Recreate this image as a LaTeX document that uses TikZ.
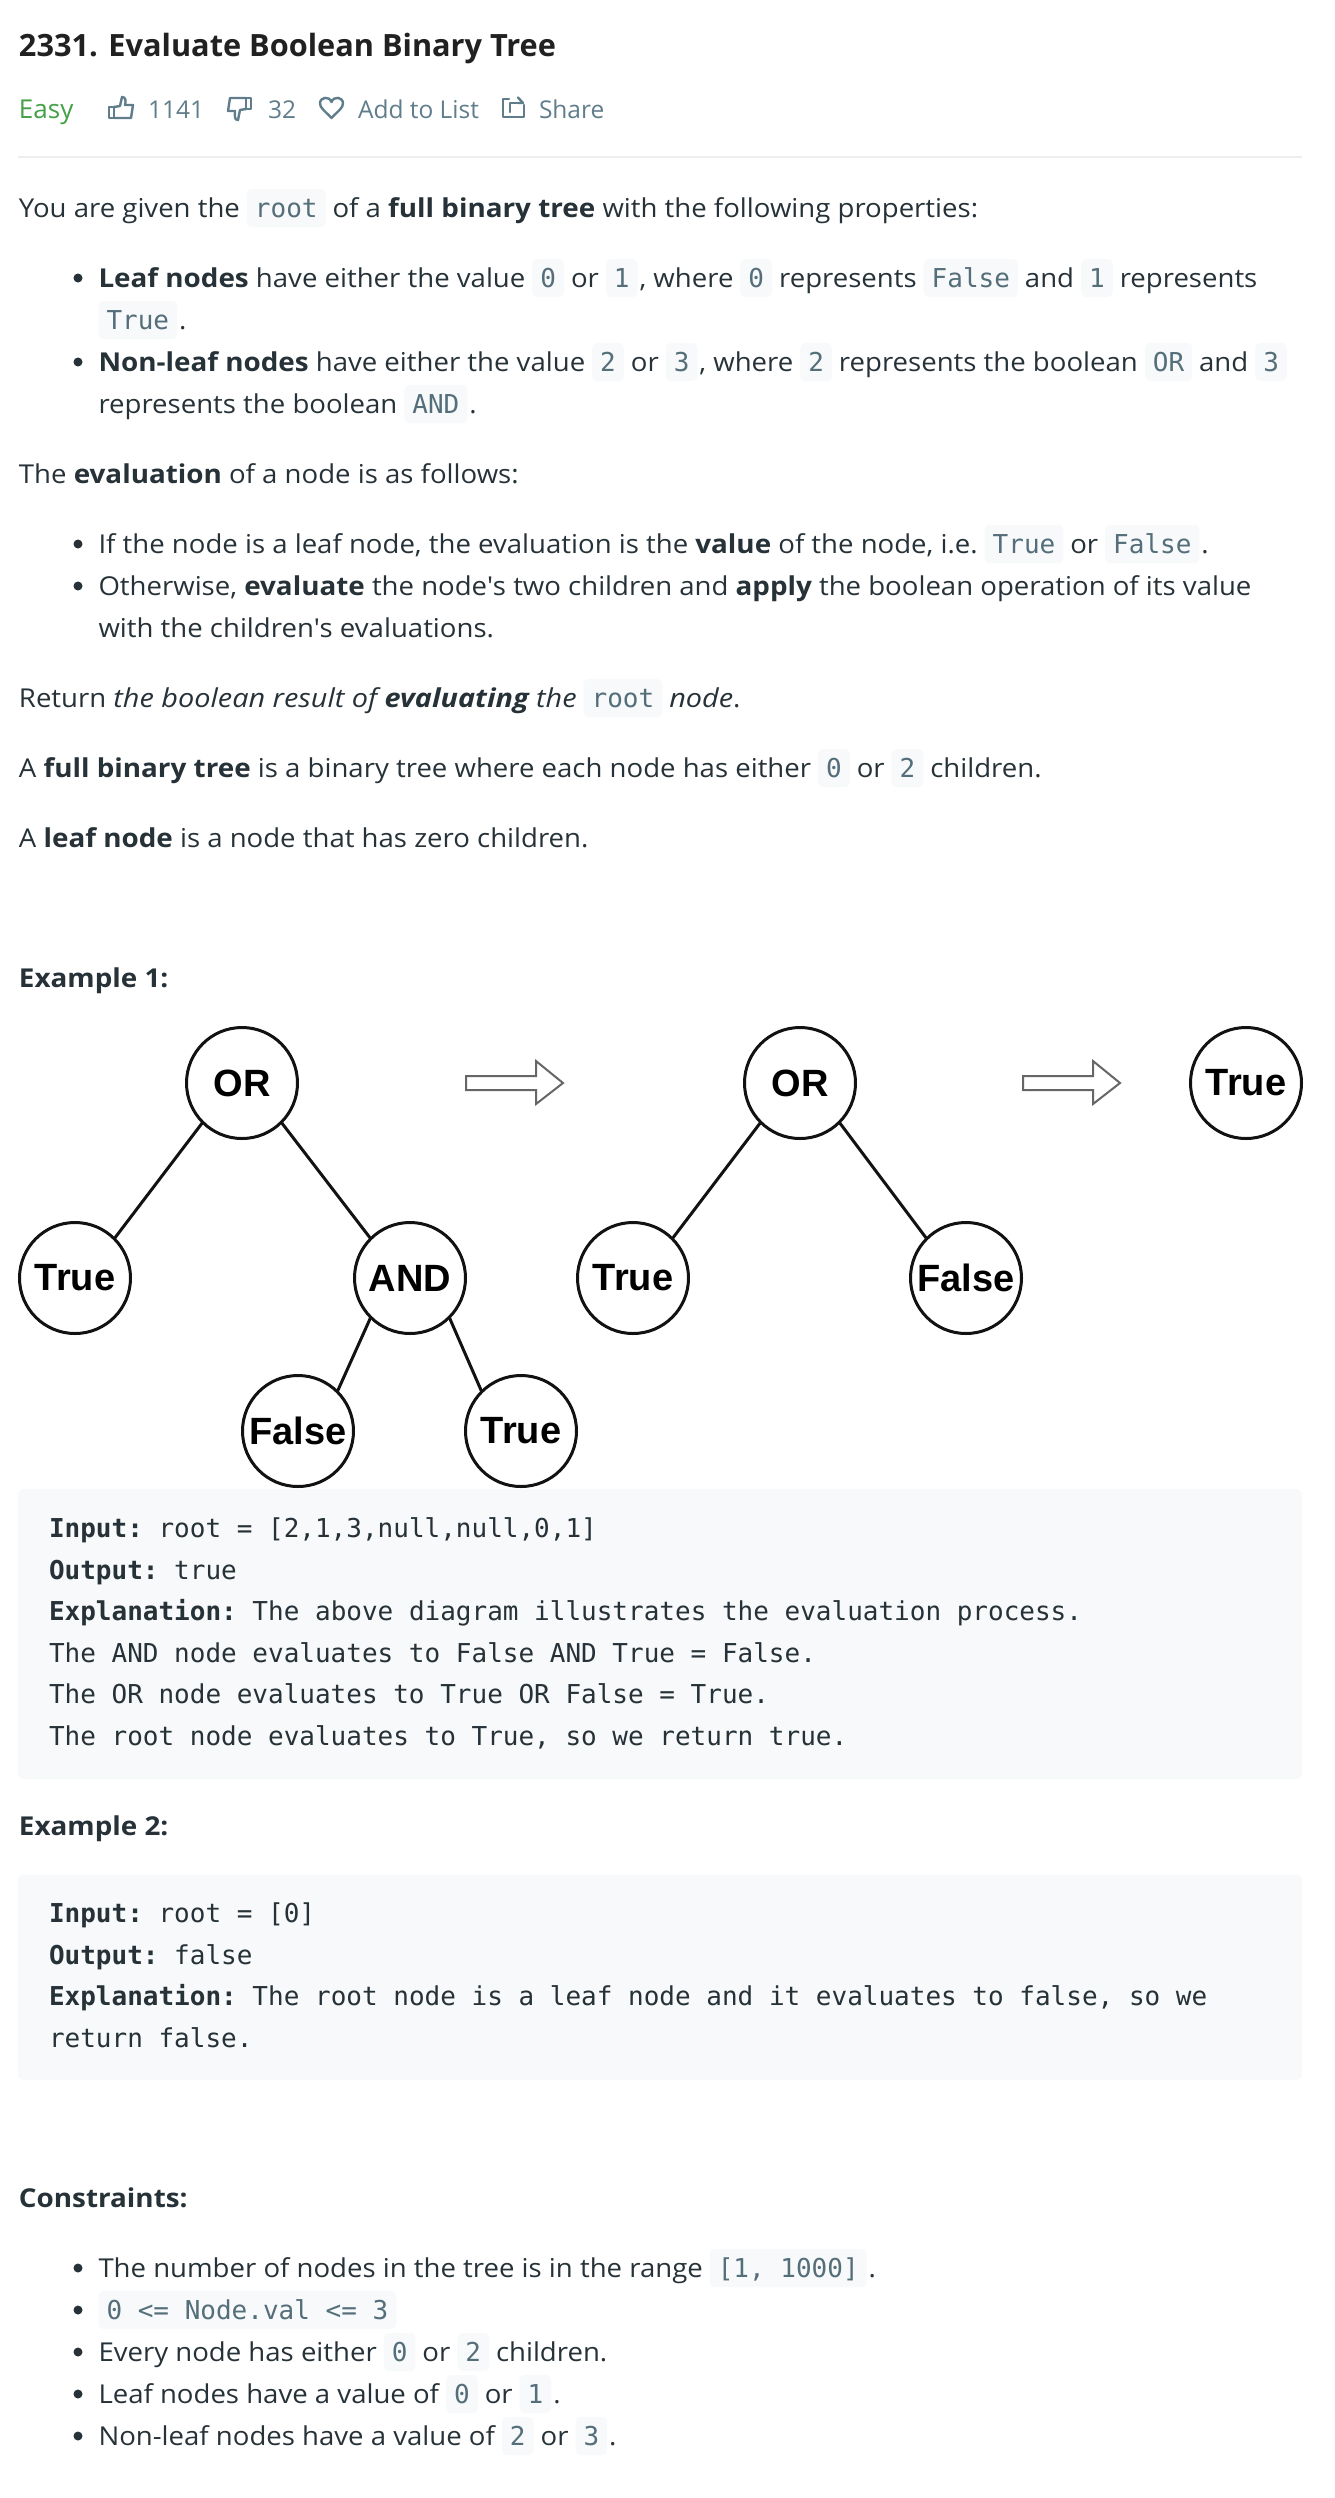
\documentclass[tikz,border=0pt]{standalone}
\usepackage{fontspec}
\setmainfont[FakeStretch=1.06,BoldFeatures={FakeStretch=1.07},ItalicFeatures={FakeStretch=1.11},BoldItalicFeatures={FakeStretch=1.11}]{Open Sans}
\setmonofont{DejaVu Sans Mono}
\newfontfamily\plainfont{Open Sans}
\newfontfamily\treefont{Liberation Sans}
\definecolor{bodyc}{HTML}{263238}
\definecolor{titlec}{HTML}{212121}
\definecolor{codec}{HTML}{546E7A}
\definecolor{chipc}{HTML}{F7F9FA}
\definecolor{metac}{HTML}{607D8B}
\definecolor{easyc}{HTML}{43A047}
\definecolor{hrc}{HTML}{EEEEEE}
\definecolor{arrowc}{HTML}{666666}
\newcounter{seg}
\tikzset{
 x=1pt,y=-1pt,
 every node/.style={inner sep=0pt,outer sep=0pt},
 txt/.style={anchor=base west,text=bodyc,font=\fontsize{26}{31}\selectfont},
 chip/.style={anchor=base west,fill=chipc,rounded corners=5pt,text=codec,inner xsep=8pt,inner ysep=0pt,text height=28pt,text depth=10pt,font=\ttfamily\fontsize{26}{31}\selectfont},
 codeline/.style={anchor=base west,text=bodyc,font=\ttfamily\fontsize{26}{31}\selectfont},
 block/.style={fill=chipc,rounded corners=5pt},
 treenode/.style={circle,draw=black!93,line width=3pt,minimum size=111pt,fill=white,text=black,font=\treefont\bfseries\fontsize{38}{44}\selectfont},
 edge/.style={draw=black!93,line width=3pt},
 bigarrow/.style={draw=arrowc,line width=2pt,line join=miter},
 dot/.style={circle,fill=bodyc,minimum size=9pt},
 icon/.style={draw=metac,line width=2.4pt,line join=round,line cap=round},
 meta/.style={anchor=base west,text=metac,font=\plainfont\fontsize{24.5}{31}\selectfont}
}
\newcommand\Ta[2][7pt]{\stepcounter{seg}\node[txt] (s\theseg) at ([xshift=#1]p) {#2};\coordinate (p) at (s\theseg.base east);}
\newcommand\Ca[2][7pt]{\stepcounter{seg}\node[chip] (s\theseg) at ([xshift=#1]p) {#2};\coordinate (p) at (s\theseg.base east);}
\newcommand\Start[2]{\coordinate (p) at (#1,#2);}
\newcommand\Dot[2]{\stepcounter{seg}\node[dot] (s\theseg) at (78,#1-9) {};\coordinate (p) at (#2,#1);}
\newcommand\Code[3]{\stepcounter{seg}\node[codeline] (s\theseg) at (#1,#2) {#3};}
\begin{document}
\begin{tikzpicture}
\useasboundingbox (0,0) rectangle (1334,2498);
\fill[white] (0,0) rectangle (1334,2498);
% header
\node[anchor=base west,text=titlec,font=\plainfont\bfseries\fontsize{30.7}{36}\selectfont] (title) at (19,56) {2331. Evaluate Boolean Binary Tree};
\node[anchor=base west,text=easyc,font=\plainfont\fontsize{26}{31}\selectfont] (easy) at (19,118) {Easy};
\node[meta] (likes) at (148,118) {1141};
\node[meta] (dislikes) at (268,118) {32};
\node[meta] (addlist) at (358,118) {Add to List};
\node[meta] (share) at (539,118) {Share};
% thumb up
\draw[icon] (109,107) rectangle (114,118);
\draw[icon] (114,107) -- (120,106) -- (122,97) .. controls (126,97) and (126,101) .. (125,105) -- (133,105) -- (131,118) -- (114,118);
% thumb down
\draw[icon] (246,109) rectangle (251,98);
\draw[icon] (246,109) -- (240,110) -- (238,120) .. controls (234,120) and (235,116) .. (235,111) -- (228,111) -- (230,98) -- (246,98);
% heart
\draw[icon] (331.5,118) .. controls (325,111) and (320,108) .. (320,103.5) .. controls (320,97) and (329,95.5) .. (331.5,102) .. controls (334,95.5) and (343,97) .. (343,103.5) .. controls (343,108) and (338,111) .. (331.5,118) -- cycle;
% share
\draw[icon] (509,99) -- (503,99) -- (503,117) -- (524,117) -- (524,105);
\draw[icon] (510,112) -- (510,103) -- (522,103);
\draw[icon] (518,97.5) -- (523,103) -- (518,103);
\draw[hrc,line width=2pt] (18,157) -- (1302,157);
% intro
\Start{19}{217}\Ta[0pt]{You are given the}\Ca{root}\Ta{of a \textbf{full binary tree} with the following properties:}
\Dot{287}{98.5}\Ta[0pt]{\textbf{Leaf nodes} have either the value}\Ca{0}\Ta{or}\Ca{1}\Ta[2pt]{, where}\Ca{0}\Ta{represents}\Ca{False}\Ta{and}\Ca{1}\Ta{represents}
\Start{98.5}{329}\Ca[0pt]{True}\Ta[2pt]{.}
\Dot{371}{98.5}\Ta[0pt]{\textbf{Non-leaf nodes} have either the value}\Ca{2}\Ta{or}\Ca{3}\Ta[2pt]{, where}\Ca{2}\Ta{represents the boolean}\Ca{OR}\Ta{and}\Ca{3}
\Start{98.5}{413}\Ta[0pt]{represents the boolean}\Ca{AND}\Ta[2pt]{.}
\Start{19}{483}\Ta[0pt]{The \textbf{evaluation} of a node is as follows:}
\Dot{553}{98.5}\Ta[0pt]{If the node is a leaf node, the evaluation is the \textbf{value} of the node, i.e.}\Ca{True}\Ta{or}\Ca{False}\Ta[2pt]{.}
\Dot{595}{98.5}\Ta[0pt]{Otherwise, \textbf{evaluate} the node\textquotesingle s two children and \textbf{apply} the boolean operation of its value}
\Start{98.5}{637}\Ta[0pt]{with the children\textquotesingle s evaluations.}
\Start{19}{707}\Ta[0pt]{Return \textit{the boolean result of \textbf{evaluating} the}}\Ca{root}\Ta{\textit{node}.}
\Start{19}{777}\Ta[0pt]{A \textbf{full binary tree} is a binary tree where each node has either}\Ca{0}\Ta{or}\Ca{2}\Ta{children.}
\Start{19}{847}\Ta[0pt]{A \textbf{leaf node} is a node that has zero children.}
\Start{19}{987}\Ta[0pt]{\textbf{Example 1:}}
% tree 1
\node[treenode] (or1) at (242,1083) {OR};
\node[treenode] (t1) at (75,1278) {True};
\node[treenode] (and1) at (410,1278) {AND};
\node[treenode] (f1) at (298,1431) {False};
\node[treenode] (t2) at (521,1431) {True};
\draw[edge] (or1.south west) -- (t1.north east);
\draw[edge] (or1.south east) -- (and1.north west);
\draw[edge] (and1.south west) -- (f1.north east);
\draw[edge] (and1.south east) -- (t2.north west);
% tree 2
\node[treenode] (or2) at (800,1083) {OR};
\node[treenode] (t3) at (633,1278) {True};
\node[treenode] (f2) at (966,1278) {False};
\draw[edge] (or2.south west) -- (t3.north east);
\draw[edge] (or2.south east) -- (f2.north west);
\node[treenode] (t4) at (1246,1083) {True};
% arrows
\draw[bigarrow] (466,1076) -- (536,1076) -- (536,1061) -- (563,1083) -- (536,1104) -- (536,1090) -- (466,1090) -- cycle;
\draw[bigarrow] (1023,1076) -- (1093,1076) -- (1093,1061) -- (1120,1083) -- (1093,1104) -- (1093,1090) -- (1023,1090) -- cycle;
% block 1
\fill[block] (18,1489) rectangle (1302,1779);
\Code{49}{1537}{\textbf{Input:} root = [2,1,3,null,null,0,1]}
\Code{49}{1579}{\textbf{Output:} true}
\Code{49}{1620}{\textbf{Explanation:} The above diagram illustrates the evaluation process.}
\Code{49}{1662}{The AND node evaluates to False AND True = False.}
\Code{49}{1703}{The OR node evaluates to True OR False = True.}
\Code{49}{1745}{The root node evaluates to True, so we return true.}
\Start{19}{1835}\Ta[0pt]{\textbf{Example 2:}}
\fill[block] (18,1875) rectangle (1302,2080);
\Code{49}{1922}{\textbf{Input:} root = [0]}
\Code{49}{1964}{\textbf{Output:} false}
\Code{49}{2005}{\textbf{Explanation:} The root node is a leaf node and it evaluates to false, so we}
\Code{49}{2047}{return false.}
\Start{19}{2207}\Ta[0pt]{\textbf{Constraints:}}
\Dot{2277}{98.5}\Ta[0pt]{The number of nodes in the tree is in the range}\Ca{[1, 1000]}\Ta[2pt]{.}
\Dot{2319}{98.5}\Ca[0pt]{0 <= Node.val <= 3}
\Dot{2361}{98.5}\Ta[0pt]{Every node has either}\Ca{0}\Ta{or}\Ca{2}\Ta{children.}
\Dot{2403}{98.5}\Ta[0pt]{Leaf nodes have a value of}\Ca{0}\Ta{or}\Ca{1}\Ta[2pt]{.}
\Dot{2445}{98.5}\Ta[0pt]{Non-leaf nodes have a value of}\Ca{2}\Ta{or}\Ca{3}\Ta[2pt]{.}
\end{tikzpicture}
\end{document}
